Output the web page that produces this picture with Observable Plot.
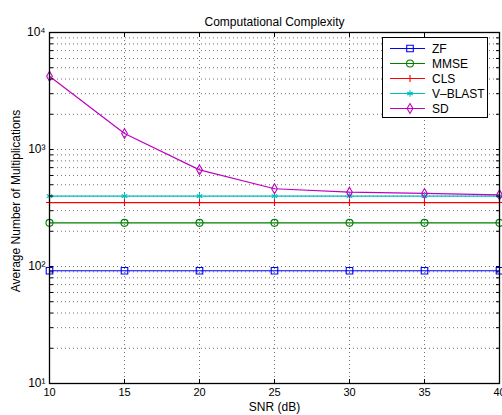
<!DOCTYPE html>
<html><head><meta charset="utf-8">
<script src="https://cdn.jsdelivr.net/npm/d3@7"></script>
<script src="https://cdn.jsdelivr.net/npm/@observablehq/plot@0.6"></script>
<style>
body{margin:0;background:#fff;}
#wrap{position:relative;width:502px;height:415px;font-family:"Liberation Sans",Arial,sans-serif;color:#000;}
#legend{position:absolute;left:382px;top:37px;}
</style>
</head><body>
<div id="wrap"></div>
<script>
const snr = [10, 15, 20, 25, 30, 35, 40];
const zf = [92, 92, 92, 92, 92, 92, 92];
const mmse = [236, 236, 236, 236, 236, 236, 236];
const cls = [352, 352, 352, 352, 352, 352, 352];
const vblast = [400, 400, 400, 400, 400, 400, 400];
const sd = [4230, 1370, 670, 462, 432, 421, 410];
const seriesNames = ["ZF", "MMSE", "CLS", "V–BLAST", "SD"];
const seriesColors = ["#0000ff", "#008000", "#ff0000", "#00bfbf", "#bf00bf"];
const seriesSymbols = ["square", "circle", "plus", "asterisk", "diamond"];
const symbolR = {square: 3.7, circle: 3.5, plus: 2.4, asterisk: 3.0, diamond: 3.0};
const xTicks = [10, 15, 20, 25, 30, 35, 40];
const yMajor = [10, 100, 1000, 10000];
const title = "Computational Complexity";
const xLabel = "SNR (dB)";
const yLabel = "Average Number of Multiplications";

const seriesValues = [zf, mmse, cls, vblast, sd];
const table = [];
seriesNames.forEach((name, i) => snr.forEach((x, j) => table.push({series: name, snr: x, value: seriesValues[i][j]})));

const yAll = [];
for (const d of [10, 100, 1000]) for (let k = 1; k <= 9; k++) yAll.push(d * k);
yAll.push(10000);
const yGrid = yAll.filter(v => v > 10 && v < 10000);
const sup = {1: "\u00b9", 2: "\u00b2", 3: "\u00b3", 4: "\u2074"};
const fmt = v => "10" + sup[Math.round(Math.log10(v))];

const grid = {stroke: "#000", strokeOpacity: 0.55, strokeDasharray: "1,3", strokeWidth: 1};

const dotMarks = seriesNames.map((name, i) =>
  Plot.dot(table.filter(d => d.series === name), {
    x: "snr", y: "value", stroke: "series", symbol: "series",
    r: symbolR[seriesSymbols[i]], strokeWidth: 1.1
  })
);

const plot = Plot.plot({
  width: 502, height: 415,
  marginLeft: 49, marginRight: 3, marginTop: 32, marginBottom: 32,
  style: {fontFamily: '"Liberation Sans", Arial, sans-serif', fontSize: "11px", background: "white", color: "black", overflow: "visible"},
  x: {domain: [10, 40], axis: null},
  y: {type: "log", domain: [10, 10000], axis: null},
  color: {domain: seriesNames, range: seriesColors},
  symbol: {domain: seriesNames, range: seriesSymbols},
  marks: [
    Plot.gridX(xTicks.slice(1, -1), grid),
    Plot.gridY(yGrid, grid),
    Plot.line(table, {x: "snr", y: "value", z: "series", stroke: "series", strokeWidth: 1.2}),
    ...dotMarks,
    Plot.frame({stroke: "#000", strokeWidth: 1.3}),
    Plot.axisX(xTicks, {tickSize: 0, tickPadding: 5, label: null, fontSize: 11}),
    Plot.axisX(xTicks, {tickSize: -4, fill: "none", label: null}),
    Plot.axisX(xTicks, {anchor: "top", tickSize: -4, fill: "none", label: null}),
    Plot.axisY(yMajor, {tickSize: 0, tickPadding: 4, tickFormat: fmt, label: null, fontSize: 12}),
    Plot.axisY(yAll, {tickSize: -4, fill: "none", label: null}),
    Plot.axisY(yAll, {anchor: "right", tickSize: -4, fill: "none", label: null}),
    Plot.text([title], {text: d => d, frameAnchor: "top", dy: -15, fontSize: 12}),
    Plot.text([xLabel], {text: d => d, frameAnchor: "bottom", dy: 27, fontSize: 12}),
    Plot.text([yLabel], {text: d => d, frameAnchor: "left", textAnchor: "middle", dx: -33, dy: -7, rotate: -90, fontSize: 12})
  ]
});
const wrap = document.getElementById("wrap");
wrap.appendChild(plot);

// legend
const lw = 105, lh = 80;
const leg = d3.create("svg").attr("id", "legend").attr("width", lw + 1).attr("height", lh + 1)
  .style("font-family", '"Liberation Sans", Arial, sans-serif').style("font-size", "12px");
leg.append("rect").attr("x", 0.5).attr("y", 0.5).attr("width", lw).attr("height", lh)
  .attr("fill", "white").attr("stroke", "black").attr("stroke-width", 1);
const d3sym = {square: d3.symbolSquare, circle: d3.symbolCircle, plus: d3.symbolPlus, asterisk: d3.symbolAsterisk, diamond: d3.symbolDiamond};
seriesNames.forEach((name, i) => {
  const y = 11 + i * 15;
  const s = seriesSymbols[i];
  const g = leg.append("g").attr("transform", `translate(0,${y})`);
  g.append("line").attr("x1", 8).attr("x2", 43).attr("y1", 0.5).attr("y2", 0.5)
    .attr("stroke", seriesColors[i]).attr("stroke-width", 1.2);
  g.append("path").attr("transform", "translate(28,0.5)")
    .attr("d", d3.symbol(d3sym[s], Math.PI * symbolR[s] * symbolR[s])())
    .attr("fill", "none").attr("stroke", seriesColors[i]).attr("stroke-width", 1.1);
  g.append("text").attr("x", 50).attr("y", 0.5).attr("dy", "0.35em").text(name);
});
wrap.appendChild(leg.node());
</script>
</body></html>
